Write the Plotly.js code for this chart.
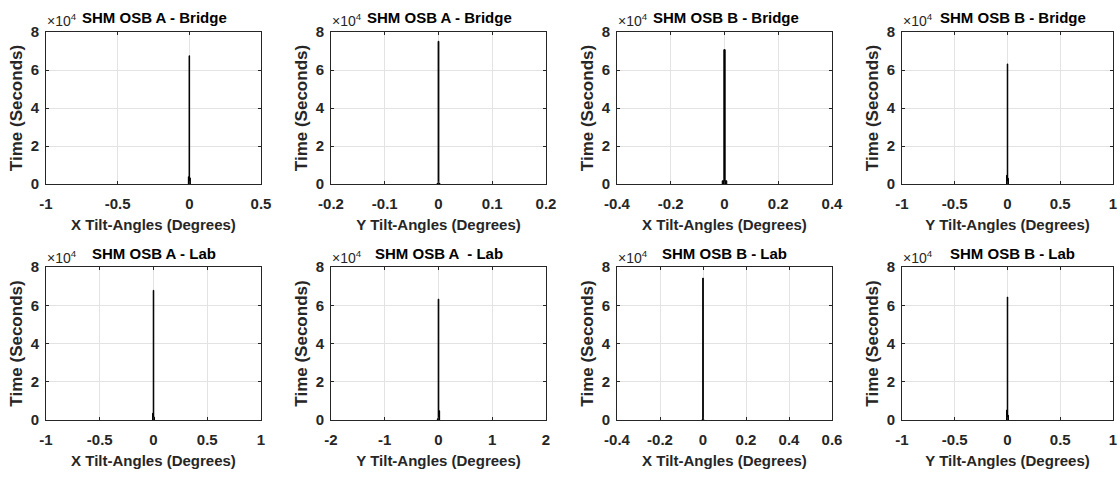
<!DOCTYPE html>
<html>
<head>
<meta charset="utf-8">
<script src="https://cdn.plot.ly/plotly-3.0.1.min.js"></script>
<style>html,body{margin:0;padding:0;background:#fff;}#chart{width:1120px;height:477px;}</style>
</head>
<body>
<div id="chart"></div>
<script>
// ---- data ----
const panelTitles = ["SHM OSB A - Bridge", "SHM OSB A - Bridge", "SHM OSB B - Bridge", "SHM OSB B - Bridge",
                     "SHM OSB A - Lab", "SHM OSB A  - Lab", "SHM OSB B - Lab", "SHM OSB B - Lab"];
const xTitles = ["X Tilt-Angles (Degrees)", "Y Tilt-Angles (Degrees)", "X Tilt-Angles (Degrees)", "Y Tilt-Angles (Degrees)",
                 "X Tilt-Angles (Degrees)", "Y Tilt-Angles (Degrees)", "X Tilt-Angles (Degrees)", "Y Tilt-Angles (Degrees)"];
const yTitle = "Time (Seconds)";

// bin centres (degrees) and time counts (seconds) for each panel
const p1Centers = [-0.005, 0, 0.005];   const p1Counts = [3800, 67500, 3200];
const p2Centers = [-0.002, 0, 0.002];   const p2Counts = [300, 75100, 300];
const p3Centers = [-0.006, 0, 0.006];   const p3Counts = [1700, 70700, 1700];
const p4Centers = [-0.006, 0, 0.006];   const p4Counts = [4600, 63200, 3000];
const p5Centers = [-0.006, 0, 0.006];   const p5Counts = [3500, 67800, 1500];
const p6Centers = [-0.015, 0, 0.015];   const p6Counts = [600, 63200, 4800];
const p7Centers = [-0.003, 0, 0.003];   const p7Counts = [200, 74200, 200];
const p8Centers = [-0.006, 0, 0.006];   const p8Counts = [5200, 64300, 2500];
const binWidths = [0.004, 0.0015, 0.005, 0.005, 0.005, 0.012, 0.003, 0.005];

// axis ranges and ticks
const xRanges = [[-1, 0.5], [-0.2, 0.2], [-0.4, 0.4], [-1, 1], [-1, 1], [-2, 2], [-0.4, 0.6], [-1, 1]];
const xTickVals = [
  [-1, -0.5, 0, 0.5],
  [-0.2, -0.1, 0, 0.1, 0.2],
  [-0.4, -0.2, 0, 0.2, 0.4],
  [-1, -0.5, 0, 0.5, 1],
  [-1, -0.5, 0, 0.5, 1],
  [-2, -1, 0, 1, 2],
  [-0.4, -0.2, 0, 0.2, 0.4, 0.6],
  [-1, -0.5, 0, 0.5, 1]
];
const xTickText = [
  ["-1", "-0.5", "0", "0.5"],
  ["-0.2", "-0.1", "0", "0.1", "0.2"],
  ["-0.4", "-0.2", "0", "0.2", "0.4"],
  ["-1", "-0.5", "0", "0.5", "1"],
  ["-1", "-0.5", "0", "0.5", "1"],
  ["-2", "-1", "0", "1", "2"],
  ["-0.4", "-0.2", "0", "0.2", "0.4", "0.6"],
  ["-1", "-0.5", "0", "0.5", "1"]
];
const yTickVals = [0, 20000, 40000, 60000, 80000];
const yTickText = ["0", "2", "4", "6", "8"];
const yRange = [0, 80000];
const exponentLabel = "×10<sup>4</sup>";

const centers = [p1Centers, p2Centers, p3Centers, p4Centers, p5Centers, p6Centers, p7Centers, p8Centers];
const counts = [p1Counts, p2Counts, p3Counts, p4Counts, p5Counts, p6Counts, p7Counts, p8Counts];

// ---- layout geometry (pixels) ----
const W = 1120, H = 477;
const colLeft = [46, 331, 617, 902];
const colWidth = [215, 215, 215, 211];
const titleCenter = [153.5, 438.5, 724.5, 1012];
const rowTop = [32, 267];
const rowBottom = [184, 420];
const px = v => v / W;
const py = v => 1 - v / H;

const ink = '#262626';
const font = 'Liberation Sans, Arial, Helvetica, sans-serif';

const data = [];
const layout = {
  width: W, height: H,
  margin: {l: 0, r: 0, t: 0, b: 0},
  paper_bgcolor: '#fff', plot_bgcolor: '#fff',
  showlegend: false,
  bargap: 0,
  annotations: []
};

for (let i = 0; i < 8; i++) {
  const r = Math.floor(i / 4), c = i % 4;
  const k = i + 1;
  const xa = 'x' + (k === 1 ? '' : k), ya = 'y' + (k === 1 ? '' : k);
  data.push({
    type: 'bar',
    x: centers[i], y: counts[i],
    width: centers[i].map(() => binWidths[i]),
    xaxis: xa, yaxis: ya,
    marker: {color: '#000', line: {color: '#000', width: 1}},
    hoverinfo: 'x+y'
  });
  const xd = [px(colLeft[c]), px(colLeft[c] + colWidth[c])];
  const yd = [py(rowBottom[r]), py(rowTop[r])];
  layout['xaxis' + (k === 1 ? '' : k)] = {
    domain: xd, anchor: ya, range: xRanges[i],
    tickmode: 'array', tickvals: xTickVals[i], ticktext: xTickText[i],
    showline: true, linecolor: ink, linewidth: 1, mirror: 'ticks',
    ticks: 'inside', ticklen: 3, tickcolor: ink, tickwidth: 1,
    showgrid: true, gridcolor: '#e3e3e3', gridwidth: 1, zeroline: false,
    tickfont: {family: font, size: 15, weight: 'bold', color: ink},
    ticklabelstandoff: 6,
    title: {text: xTitles[i], font: {family: font, size: 15, weight: 'bold', color: ink}, standoff: 8},
    fixedrange: true
  };
  layout['yaxis' + (k === 1 ? '' : k)] = {
    domain: yd, anchor: xa, range: yRange,
    tickmode: 'array', tickvals: yTickVals, ticktext: yTickText,
    showline: true, linecolor: ink, linewidth: 1, mirror: 'ticks',
    ticks: 'inside', ticklen: 3, tickcolor: ink, tickwidth: 1,
    showgrid: true, gridcolor: '#e3e3e3', gridwidth: 1, zeroline: false,
    tickfont: {family: font, size: 15, weight: 'bold', color: ink},
    ticklabelstandoff: 3,
    title: {text: yTitle, font: {family: font, size: 17, weight: 'bold', color: ink}, standoff: 3},
    fixedrange: true
  };
  // subplot title
  layout.annotations.push({
    xref: 'paper', yref: 'paper',
    x: px(titleCenter[c] + (r === 0 ? 1 : 0)), y: py(r === 0 ? 18 : 254),
    xanchor: 'center', yanchor: 'middle', showarrow: false,
    text: panelTitles[i].replace(/  /g, ' \u00a0'),
    font: {family: font, size: 15, weight: 'bold', color: '#000'}
  });
  // exponent label
  layout.annotations.push({
    xref: 'paper', yref: 'paper',
    x: px(colLeft[c] - 1), y: py(r === 0 ? 20 : 257),
    xanchor: 'left', yanchor: 'middle', showarrow: false,
    text: exponentLabel,
    font: {family: font, size: 14, color: ink}
  });
}

Plotly.newPlot('chart', data, layout, {displayModeBar: false, staticPlot: true});
</script>
</body>
</html>
